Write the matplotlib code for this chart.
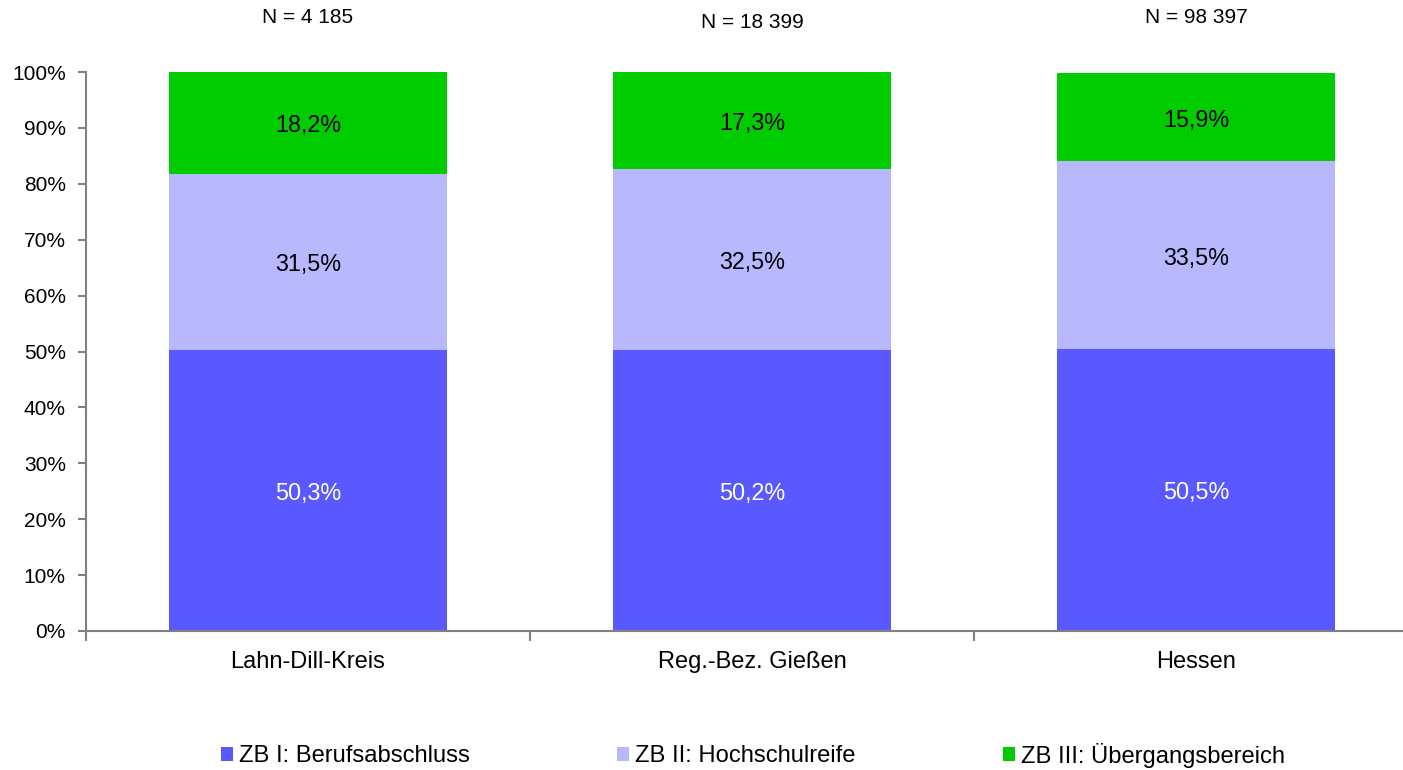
import matplotlib.pyplot as plt
from matplotlib.ticker import FixedLocator, FuncFormatter
import numpy as np

plt.rcParams['font.family'] = ['Liberation Sans', 'DejaVu Sans']

# data
regions = ['Lahn-Dill-Kreis', 'Reg.-Bez. Gießen', 'Hessen']
n_labels = ['N = 4 185', 'N = 18 399', 'N = 98 397']
zb1 = [50.3, 50.2, 50.5]
zb2 = [31.5, 32.5, 33.5]
zb3 = [18.2, 17.3, 15.9]
series_names = ['ZB I: Berufsabschluss', 'ZB II: Hochschulreife', 'ZB III: Übergangsbereich']
colors = ['#5959FF', '#B8B8FF', '#00CC00']
text_colors = ['white', 'black', 'black']

fig = plt.figure(figsize=(14.03, 7.70), dpi=100)
ax = fig.add_axes([86 / 1403, 1 - 631 / 770, 1332 / 1403, (631 - 72) / 770])

x = np.arange(len(regions))
bottom = np.zeros(len(regions))
for vals, name, col, tcol in zip([zb1, zb2, zb3], series_names, colors, text_colors):
    vals = np.array(vals)
    ax.bar(x, vals, width=0.626, bottom=bottom, color=col, label=name, linewidth=0)
    for xi, b, v in zip(x, bottom, vals):
        # small downward nudge so the label sits where the original has it
        ax.text(xi, b + v / 2 - 0.55, f'{v:.1f}%'.replace('.', ','), ha='center', va='center',
                fontsize=16.8, color=tcol)
    bottom += vals

# N labels above the bars (middle one sits a bit lower, as in the original)
n_y = [109.7, 108.8, 109.7]
for xi, lab, yy in zip(x, n_labels, n_y):
    ax.text(xi, yy, lab, ha='center', va='center', fontsize=15, clip_on=False)

ax.set_xlim(-0.5, 2.5)
ax.set_ylim(0, 100)
ax.yaxis.set_major_locator(FixedLocator(np.arange(0, 101, 10)))
ax.yaxis.set_major_formatter(FuncFormatter(lambda v, p: f'{v:.0f}%'))
ax.set_xticks(x)
ax.set_xticklabels(regions, fontsize=17)
ax.set_xticks([-0.5, 0.5, 1.5, 2.5], minor=True)
ax.tick_params(axis='x', which='major', length=0, pad=14.5)
ax.tick_params(axis='x', which='minor', length=7, width=1.5, color='#808080', direction='out')
ax.tick_params(axis='y', labelsize=15, length=6, width=1.5, color='#808080', pad=8.5)

for s in ['top', 'right']:
    ax.spines[s].set_visible(False)
for s in ['left', 'bottom']:
    ax.spines[s].set_color('#808080')
    ax.spines[s].set_linewidth(1.5)

fig.legend(loc='center', bbox_to_anchor=(753 / 1403, 1 - 755 / 770), ncol=3,
           frameon=False, fontsize=17.1, handlelength=0.5, handleheight=0.5,
           handletextpad=0.25, columnspacing=6.2)

fig.savefig('out.png', dpi=100)
